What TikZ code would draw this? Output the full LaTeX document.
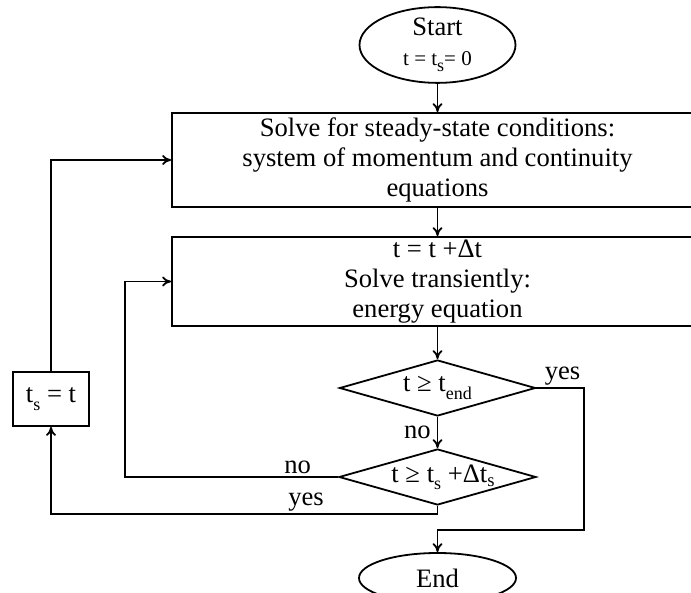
\documentclass[tikz,border=0pt]{standalone}
\usepackage{fontspec}
\setmainfont{Liberation Serif}
\usetikzlibrary{arrows.meta,positioning,shapes.geometric}
\newcommand{\lsub}[1]{\raisebox{-0.6ex}{\fontsize{9}{9}\selectfont #1}}

\begin{document}
\begin{tikzpicture}[
  x=0.5pt, y=-0.5pt,
  font=\fontsize{13.3}{15}\selectfont,
  box/.style={draw, line width=0.9pt, align=center, inner sep=0pt, minimum width=265.5pt},
  term/.style={draw, ellipse, line width=0.9pt, align=center, inner sep=0pt},
  decide/.style={draw, diamond, line width=0.9pt, inner sep=0pt, minimum width=98pt, minimum height=28pt},
  lbl/.style={inner sep=1pt},
  arr/.style={-{To[length=4.5pt, width=5pt]}, line width=0.9pt}
]
\useasboundingbox (0,0) rectangle (691,593);

% Hauptspalte
\node[term, minimum width=78pt, minimum height=35pt] (start) at (437.5,45) {Start\\{\fontsize{10.5}{15}\selectfont t = t\lsub{s}= 0}};
\node[box, minimum height=47pt] (steady) at (437.5,160) {Solve for steady-state conditions:\\system of momentum and continuity\\equations};
\node[box, minimum height=44.5pt] (trans) at (437.5,281.5) {t = t +Δt\\Solve transiently:\\energy equation};

% Abfragen
\node[decide] (endchk) at (437.5,388) {};
\node (endchktxt) at (endchk.center) {t ≥ t\lsub{end}};
\node[decide, minimum width=98.5pt] (tschk) at (437.5,477) {};
\node (tschktxt) at ([xshift=3pt]tschk.center) {t ≥ t\lsub{s} +Δt\textsubscript{s}};

% Links und Ende
\node[draw, line width=0.9pt, minimum width=38pt, minimum height=27pt, inner sep=0pt] (tsbox) at (51,399) {t\lsub{s} = t};
\node[term, minimum width=78.5pt, minimum height=25pt] (stop) at (437.5,578) {End};

\coordinate (nobend) at (125,477);
\coordinate (yesbend) at (437.5,514);
\coordinate (endbend) at (584,530);

% Verbindungen
\draw[arr] (start.south) -- (steady.north);
\draw[arr] (steady.south) -- (trans.north);
\draw[arr] (trans.south) -- (endchk.north);
\draw[arr] (endchk.south) -- node[left, lbl, xshift=-2pt] {no} (tschk.north);
\draw[arr] (endchk.east) -- node[above, lbl, pos=0.55] {yes} (endchk.east -| endbend) -- (endbend) -| (stop.north);
\draw[arr] (tschk.west) -- node[above, lbl, pos=0.19] {no} (nobend) |- (trans.west);
\draw[arr] (tschk.south) -- (yesbend) -- node[above, lbl, pos=0.34] {yes} (yesbend -| tsbox.south) -- (tsbox.south);
\draw[arr] (tsbox.north) |- (steady.west);

\end{tikzpicture}
\end{document}
